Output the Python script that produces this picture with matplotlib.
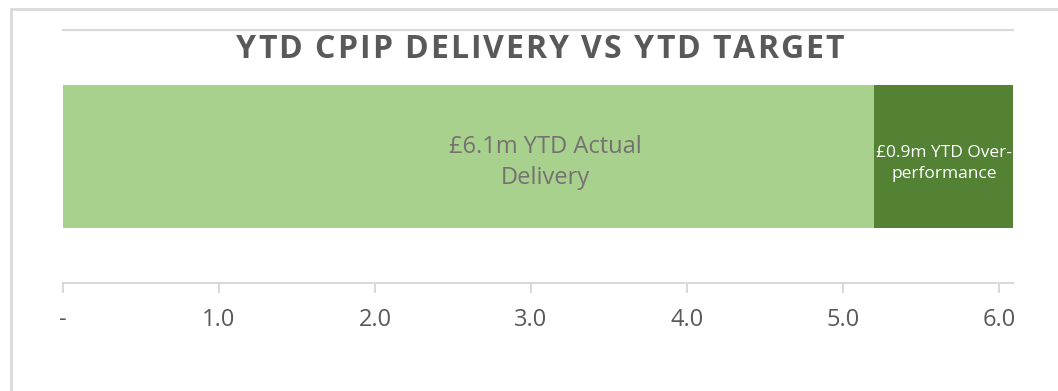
import matplotlib.pyplot as plt
from matplotlib.patches import Rectangle

# YTD CPIP delivery (£m): target met plus over-performance on top
segments = ["YTD Target", "YTD Over-performance"]
values = [5.2, 0.9]
colors = ["#A9D18E", "#548235"]
tick_values = [0, 1, 2, 3, 4, 5, 6]
tick_labels = ["-", "1.0", "2.0", "3.0", "4.0", "5.0", "6.0"]
title = "YTD CPIP DELIVERY VS YTD TARGET"

GREY = "#595959"
LINE = "#D9D9D9"
W, H = 1058, 391

total = sum(values)


def spaced_text(fig, x_px, y_px, s, spacing_px, **kw):
    """Draw s centred at (x_px, y_px) with extra tracking between letters."""
    r = fig.canvas.get_renderer()
    widths = []
    for ch in s:
        t = fig.text(0, 0, ch, **kw)
        widths.append(t.get_window_extent(r).width if ch != " " else None)
        t.remove()
    space = fig.text(0, 0, "a a", **kw)
    aa = fig.text(0, 0, "aa", **kw)
    sp_w = space.get_window_extent(r).width - aa.get_window_extent(r).width
    space.remove()
    aa.remove()
    widths = [w if w is not None else sp_w for w in widths]
    full = sum(widths) + spacing_px * (len(s) - 1)
    x = x_px - full / 2
    for ch, w in zip(s, widths):
        fig.text(x / W, 1 - y_px / H, ch, ha="left", va="center", **kw)
        x += w + spacing_px


fig = plt.figure(figsize=(W / 100, H / 100), dpi=100)
ax = fig.add_axes([63 / W, 1 - 283 / H, 950 / W, 253 / H])

left = 0.0
for val, col in zip(values, colors):
    ax.barh(0, val, left=left, height=1.0, color=col, linewidth=0)
    left += val

ax.text(total / 2 + 0.04, -0.045, f"£{total:.1f}m YTD Actual\nDelivery", ha="center",
        va="center", fontsize=17, color="#767171", family="Open Sans", linespacing=1.38)
ax.text(values[0] + values[1] / 2, -0.05, f"£{values[1]:.1f}m YTD Over-\nperformance",
        ha="center", va="center", fontsize=12.5, color="white", family="Open Sans",
        linespacing=1.45)

ax.set_xlim(0, 6.09)
ax.set_ylim(-0.89, 0.89)
ax.set_yticks([])
ax.set_xticks(tick_values)
ax.set_xticklabels(tick_labels, family="Open Sans", fontsize=17, color=GREY)
ax.tick_params(axis="x", length=7, width=1.5, color=LINE, pad=11)
for side in ["left", "right"]:
    ax.spines[side].set_visible(False)
for side in ["top", "bottom"]:
    ax.spines[side].set_color(LINE)
    ax.spines[side].set_linewidth(1.5)

spaced_text(fig, 540, 50, title, 2.0, fontsize=23, fontweight="bold", color=GREY,
            family="Open Sans")

# light frame around the chart area
fig.patches.append(Rectangle((11 / W, -0.1), 1.2, 1 - 9 / H + 0.1,
                             transform=fig.transFigure, fill=False,
                             edgecolor=LINE, linewidth=2))

fig.savefig("out.png", dpi=100)
